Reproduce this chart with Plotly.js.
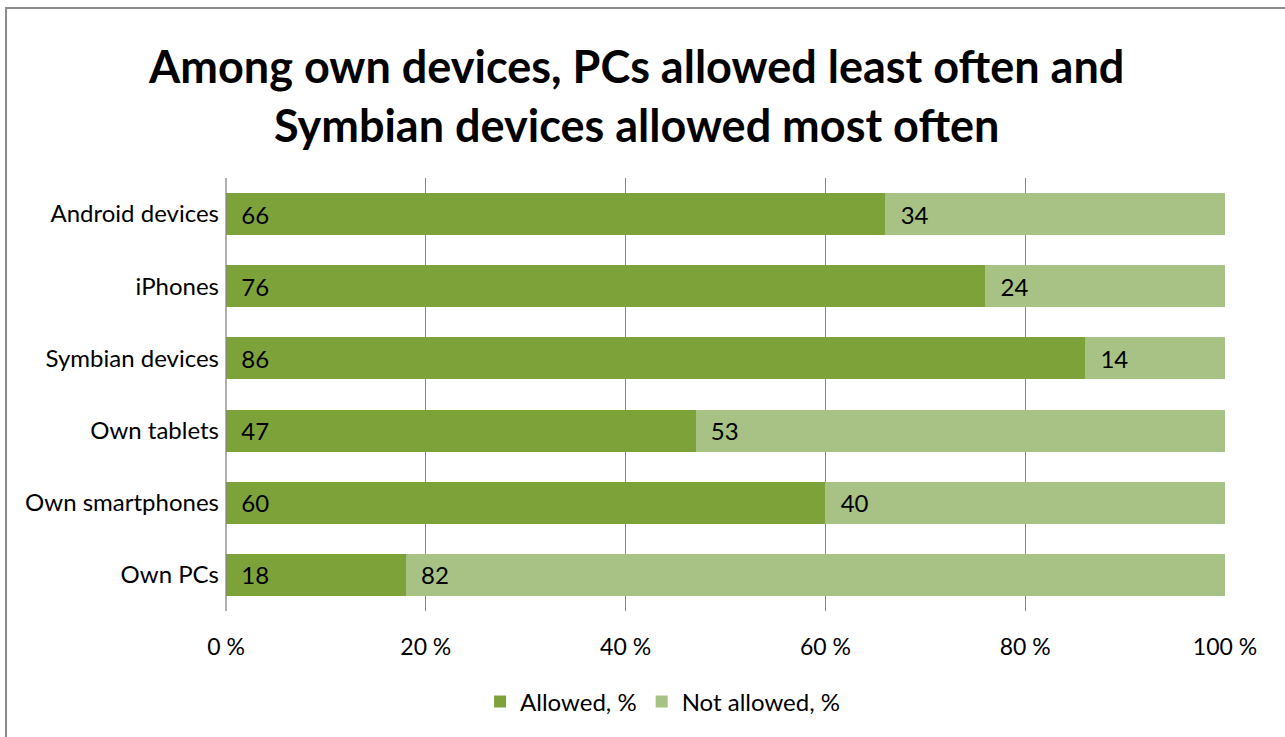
<!DOCTYPE html>
<html>
<head>
<meta charset="utf-8">
<script src="https://cdn.plot.ly/plotly-3.0.1.min.js"></script>
<style>
  html, body { margin: 0; padding: 0; background: #fff; }
  #chart { width: 1285px; height: 737px; }
</style>
</head>
<body>
<div id="chart"></div>
<script>
const categories = ["Android devices", "iPhones", "Symbian devices", "Own tablets", "Own smartphones", "Own PCs"];
const allowed = [66, 76, 86, 47, 60, 18];
const notAllowed = [34, 24, 14, 53, 40, 82];
const tickVals = [0, 20, 40, 60, 80, 100];
const tickLabels = ["0 %", "20 %", "40 %", "60 %", "80 %", "100 %"];

const FONT = "Lato, 'Open Sans', sans-serif";
const pad = "\u00a0\u00a0";

const traces = [
  {
    type: "bar", orientation: "h", name: "Allowed, %",
    y: categories, x: allowed,
    text: allowed.map(v => pad + v), textposition: "inside", insidetextanchor: "start",
    textfont: { family: FONT, size: 24, color: "#000" },
    marker: { color: "#7ea23a" },
    hoverinfo: "x+y"
  },
  {
    type: "bar", orientation: "h", name: "Not allowed, %",
    y: categories, x: notAllowed,
    text: notAllowed.map(v => pad + v), textposition: "inside", insidetextanchor: "start",
    textfont: { family: FONT, size: 24, color: "#000" },
    marker: { color: "#a8c184" },
    hoverinfo: "x+y"
  }
];

const layout = {
  width: 1285, height: 737,
  margin: { l: 226, r: 60, t: 178, b: 126 },
  paper_bgcolor: "#fff", plot_bgcolor: "#fff",
  barmode: "stack", bargap: 0.42,
  font: { family: FONT, size: 24, color: "#000" },
  title: {
    text: "<b>Among own devices, PCs allowed least often and<br>Symbian devices allowed most often</b>",
    font: { family: FONT, size: 45, color: "#000" },
    xref: "container", x: 0.4955, xanchor: "center",
    yref: "container", y: 0.887, yanchor: "middle"
  },
  xaxis: {
    range: [0, 100], tickvals: tickVals, ticktext: tickLabels,
    showgrid: true, gridcolor: "#868686", gridwidth: 1.3,
    zeroline: false, showline: false, ticks: "", ticklabelstandoff: 20,
    tickfont: { family: FONT, size: 23, color: "#000" }, fixedrange: true
  },
  yaxis: {
    type: "category", autorange: "reversed",
    showgrid: false, zeroline: false, showline: false, ticks: "",
    ticklabelstandoff: 6,
    tickfont: { family: FONT, size: 24, color: "#000" }, fixedrange: true
  },
  showlegend: true,
  legend: {
    orientation: "h", x: 0.437, xanchor: "center", y: -0.21, yanchor: "middle",
    font: { family: FONT, size: 24, color: "#000" }, traceorder: "normal",
    itemclick: false, itemdoubleclick: false
  },
  shapes: [
    { type: "line", xref: "paper", yref: "paper", x0: 0, x1: 0, y0: 0, y1: 1,
      line: { color: "#868686", width: 1.3 }, layer: "above" },
    { type: "rect", xref: "paper", yref: "paper", x0: -0.2202, x1: 1.2, y0: -0.5, y1: 1.3926,
      line: { color: "#8c8c8c", width: 2 }, fillcolor: "rgba(0,0,0,0)", layer: "below" }
  ]
};

Plotly.newPlot("chart", traces, layout, { displayModeBar: false });
</script>
</body>
</html>
